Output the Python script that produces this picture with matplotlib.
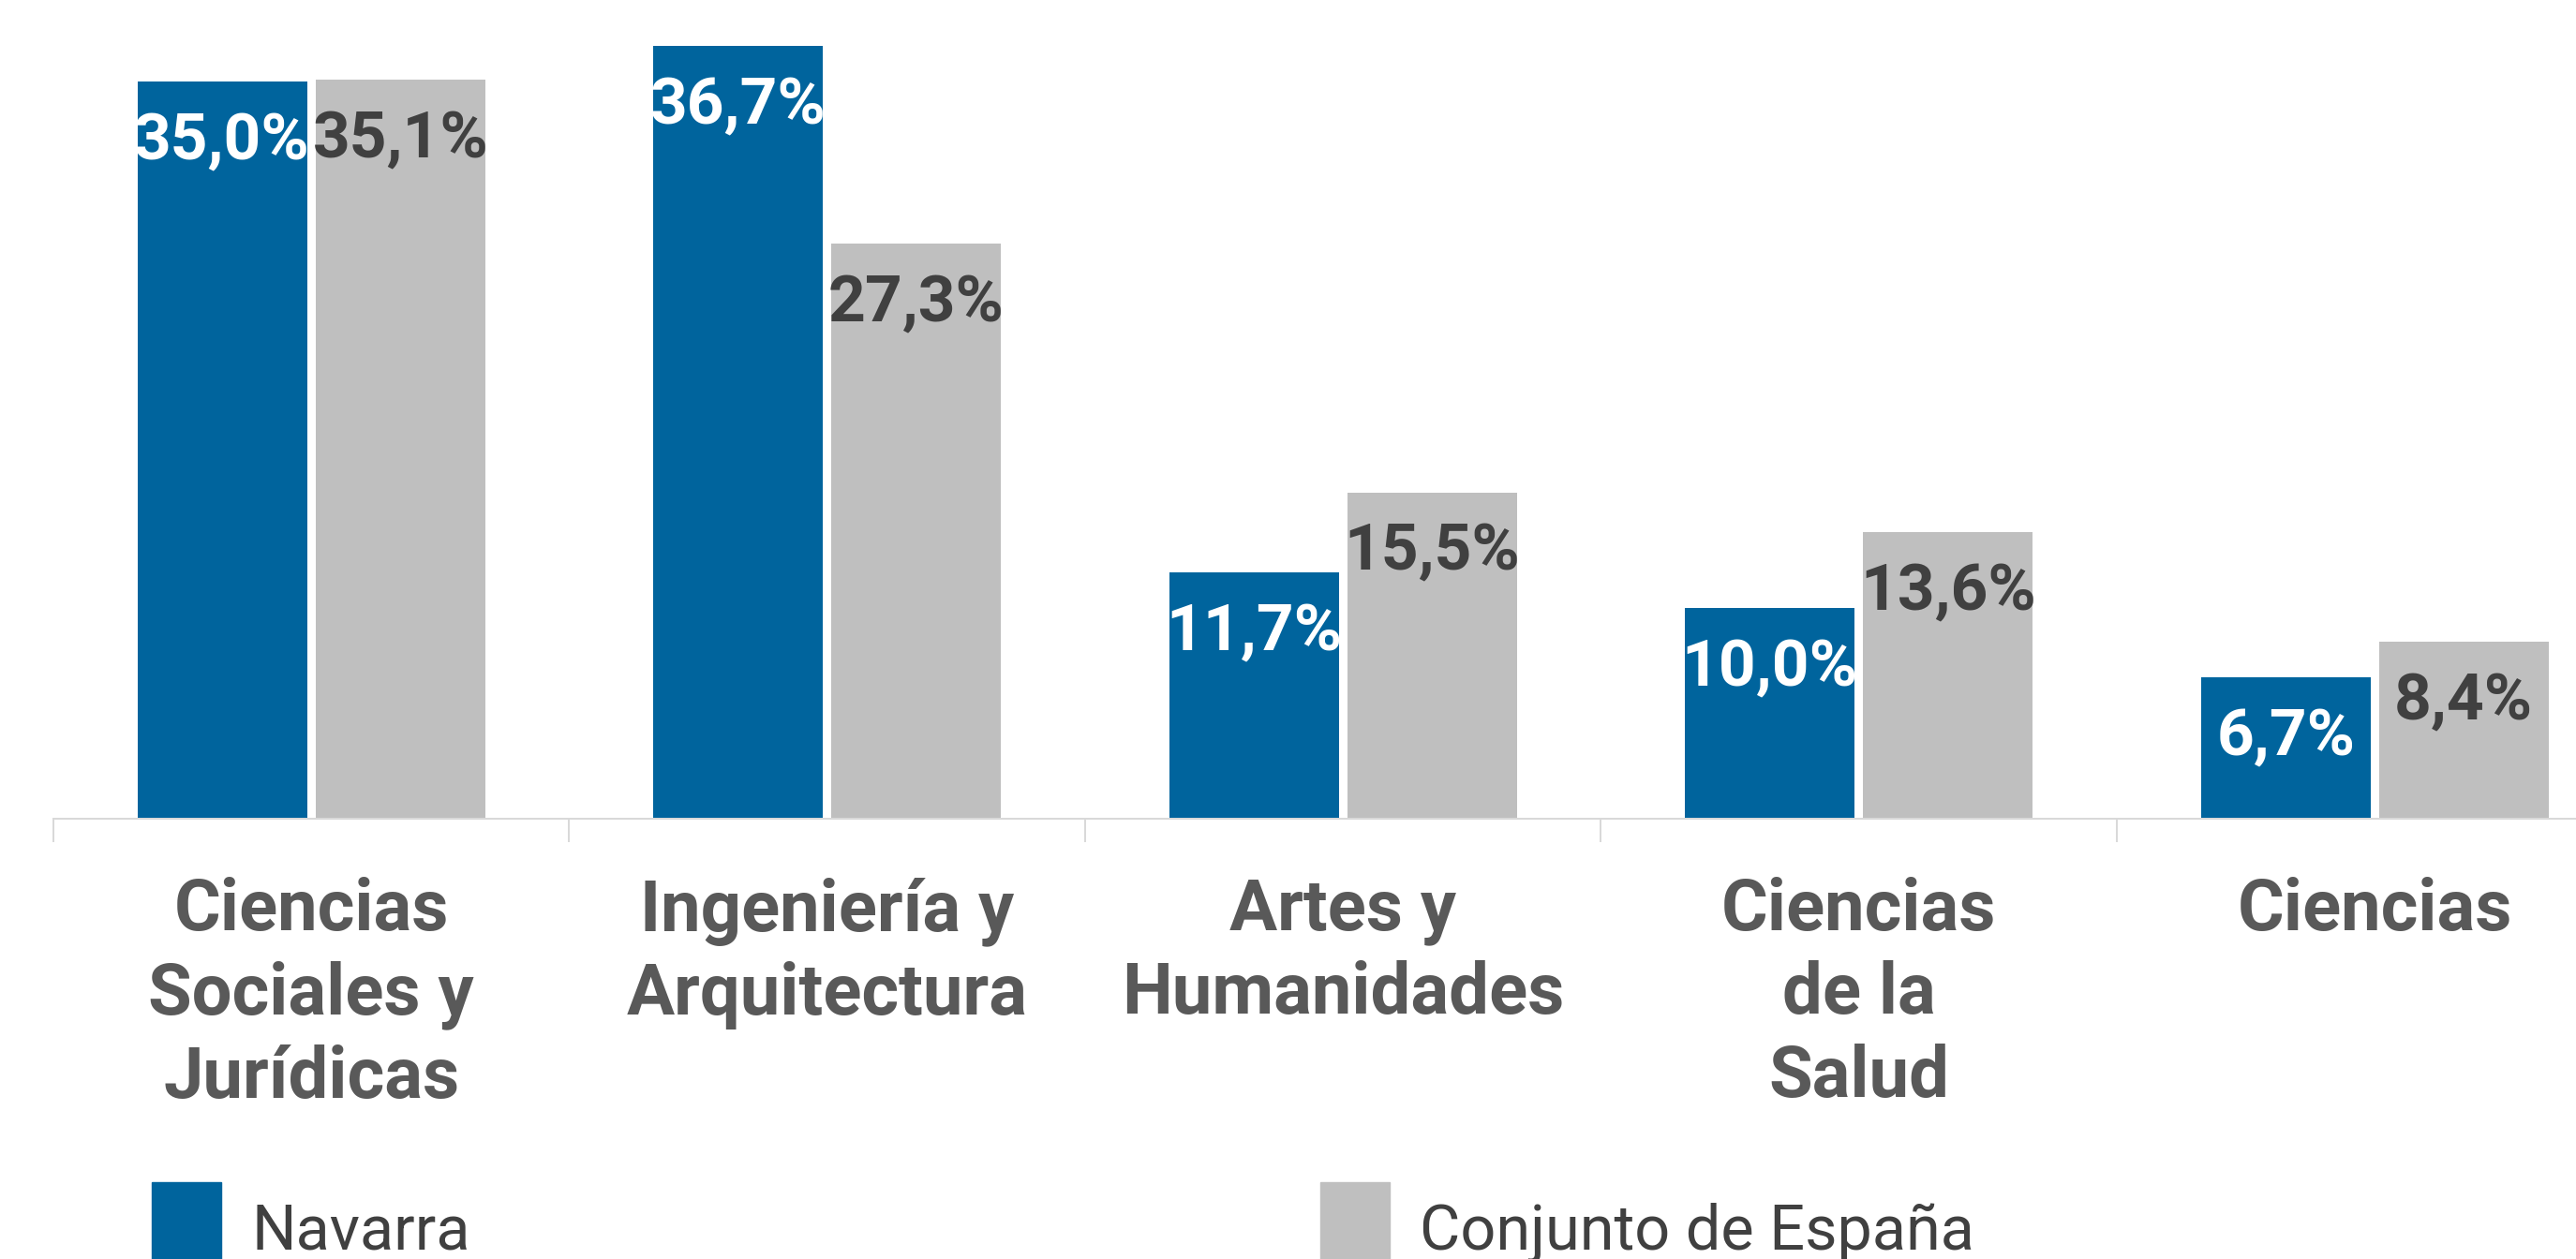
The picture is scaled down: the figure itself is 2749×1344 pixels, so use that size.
import matplotlib
matplotlib.use("Agg")
import matplotlib.pyplot as plt
from matplotlib.patches import Rectangle
import numpy as np

categories = ["Ciencias\nSociales y\nJurídicas", "Ingeniería y\nArquitectura",
              "Artes y\nHumanidades", "Ciencias\nde la\nSalud", "Ciencias"]
navarra = [35.0, 36.7, 11.7, 10.0, 6.7]
espana = [35.1, 27.3, 15.5, 13.6, 8.4]
series_names = ["Navarra", "Conjunto de España"]

BLUE = "#00649D"
GRAY = "#BFBFBF"
W, H = 2749, 1344
DPI = 100
PT = 72 / DPI  # points per pixel

plt.rcParams['font.family'] = ['Roboto', 'DejaVu Sans']

fig = plt.figure(figsize=(W / DPI, H / DPI), dpi=DPI)
ax = fig.add_axes([57 / W, 470 / H, 2752.5 / W, 874 / H])

x = np.arange(len(categories))
bw = 0.329
off = 0.1726
b1 = ax.bar(x - off, navarra, bw, color=BLUE, label=series_names[0])
b2 = ax.bar(x + off, espana, bw, color=GRAY, label=series_names[1])

ax.set_xlim(-0.5, len(categories) - 0.5)
ax.set_ylim(0, 874 / 22.48)

for s in ["top", "left", "right"]:
    ax.spines[s].set_visible(False)
ax.spines["bottom"].set_color("#D9D9D9")
ax.spines["bottom"].set_linewidth(2 * PT)
ax.set_yticks([])
ax.set_xticks(np.arange(len(categories) + 1) - 0.5)
ax.set_xticklabels([])
ax.tick_params(axis="x", length=25 * PT, width=2 * PT, color="#D9D9D9", direction="out")

def fmt(v):
    return f"{v:.1f}".replace(".", ",") + "%"

for bars, vals, col in [(b1, navarra, "white"), (b2, espana, "#404040")]:
    for rect, v in zip(bars, vals):
        ax.annotate(fmt(v), (rect.get_x() + rect.get_width() / 2, rect.get_height()),
                    xytext=(0, -83), textcoords="offset pixels", ha="center", va="baseline",
                    fontsize=50, fontweight="bold", color=col)

for xi, cat in zip(x, categories):
    ax.annotate(cat, (xi, 0), xytext=(0, -(940 - 874) + 4), textcoords="offset pixels",
                ha="center", va="top", fontsize=54.7, fontweight="bold", color="#595959",
                linespacing=1.28, annotation_clip=False)

# legend
for (x0, name, col) in [(162, series_names[0], BLUE), (1409, series_names[1], GRAY)]:
    fig.add_artist(Rectangle((x0 / W, (H - 1350) / H), 74 / W, 88 / H,
                             transform=fig.transFigure, color=col, clip_on=False))
    fig.text((x0 + 106) / W, (H - 1334) / H, name, ha="left", va="baseline",
             fontsize=48, color="#404040")

fig.savefig("out.png", dpi=DPI)
